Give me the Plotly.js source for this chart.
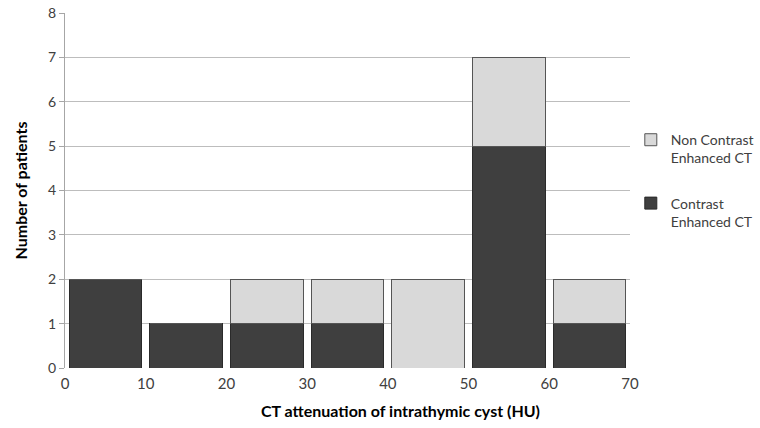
<!DOCTYPE html>
<html><head><meta charset="utf-8">
<script src="https://cdn.plot.ly/plotly-3.0.1.min.js"></script>
<style>html,body{margin:0;padding:0;background:#fff}#chart{width:760px;height:428px}</style>
</head><body><div id="chart"></div>
<script>
const binCenters = [0.5, 1.5, 2.5, 3.5, 4.5, 5.5, 6.5];
const contrastEnhanced = [2, 1, 1, 1, 0, 5, 1];
const nonContrastEnhanced = [0, 0, 1, 1, 2, 2, 1];
const tickPositions = [0, 1, 2, 3, 4, 5, 6, 7];
const tickLabels = ['0', '10', '20', '30', '40', '50', '60', '70'];

const font = 'Lato, "Open Sans", sans-serif';
const traces = [
  {type: 'bar', x: binCenters, y: contrastEnhanced, name: 'Contrast<br>Enhanced CT', legendgroup: 'c', legendrank: 2,
   marker: {color: '#3f3f3f', line: {color: '#2a2a2a', width: 1}}, width: 0.9},
  {type: 'bar', x: binCenters, y: nonContrastEnhanced, name: 'Non Contrast<br>Enhanced CT', legendgroup: 'n', legendrank: 1,
   marker: {color: '#d9d9d9', line: {color: '#555555', width: 1}}, width: 0.9}
];
const layout = {
  width: 760, height: 428,
  margin: {l: 65, r: 130, t: 13, b: 60, autoexpand: false},
  paper_bgcolor: '#fff', plot_bgcolor: '#fff',
  barmode: 'stack',
  font: {family: font, size: 13, color: '#404040'},
  xaxis: {range: [0, 7], tickvals: tickPositions, ticktext: tickLabels,
          showgrid: false, zeroline: false, showline: false, ticks: '',
          ticklabelstandoff: 5,
          tickfont: {size: 15, color: '#404040'}, fixedrange: true},
  yaxis: {range: [0, 8], dtick: 1, showgrid: true, gridcolor: '#bdbdbd', gridwidth: 1,
          zeroline: false, showline: true, linecolor: '#a6a6a6', linewidth: 1,
          ticks: 'outside', ticklen: 5, tickcolor: '#a6a6a6',
          tickfont: {size: 14, color: '#404040'},
          title: {text: 'Number of patients', font: {size: 16, color: '#000', family: font, weight: 'bold'}, standoff: 16}},
  showlegend: true,
  legend: {xref: 'container', yref: 'container', x: 0.83, y: 0.71, xanchor: 'left', yanchor: 'top',
           traceorder: 'grouped', valign: 'top',
           font: {size: 14, color: '#404040'}, itemwidth: 30, tracegroupgap: 24},
  annotations: [{text: '<b>CT attenuation of intrathymic cyst (HU)</b>', xref: 'paper', yref: 'paper',
                 x: 0.593, y: -0.121, xanchor: 'center', yanchor: 'middle', showarrow: false,
                 font: {size: 16, color: '#000', family: font}}]
};
Plotly.newPlot('chart', traces, layout, {displayModeBar: false, staticPlot: true});
</script></body></html>
